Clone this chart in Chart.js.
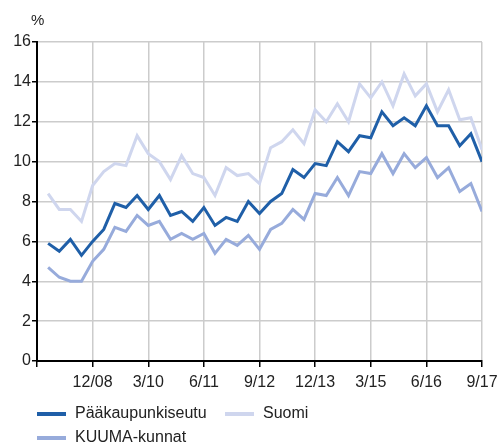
<!DOCTYPE html>
<html>
<head>
<meta charset="utf-8">
<script src="https://cdn.jsdelivr.net/npm/chart.js@4.4.0/dist/chart.umd.min.js"></script>
<style>
  html,body{margin:0;padding:0;background:#fff;}
  #wrap{position:relative;width:498px;height:446px;font-family:"Liberation Sans",Arial,sans-serif;color:#222;}
  canvas{position:absolute;left:0;top:0;}
  .unit{position:absolute;left:31px;top:11px;font-size:15px;}
  .leg{position:absolute;font-size:16px;line-height:20px;white-space:nowrap;}
  .sw{position:absolute;width:29px;height:4px;}
</style>
</head>
<body>
<div id="wrap">
  <canvas id="c" width="498" height="446"></canvas>
  <div class="unit">%</div>
  <div id="legend"></div>
</div>
<script>
// x index 0 = 9/07 (axis start), points from 12/07 (1) to 9/17 (40)
const tickLabels = {0:'', 5:'12/08', 10:'3/10', 15:'6/11', 20:'9/12', 25:'12/13', 30:'3/15', 35:'6/16', 40:'9/17'};
const seriesNames = ['Pääkaupunkiseutu', 'KUUMA-kunnat', 'Suomi'];
const seriesColors = ['#1f5fa8', '#97abdb', '#cfd6ee'];
const paakaupunkiseutu = [5.9,5.5,6.1,5.3,6.0,6.6,7.9,7.7,8.3,7.6,8.3,7.3,7.5,7.0,7.7,6.8,7.2,7.0,8.0,7.4,8.0,8.4,9.6,9.2,9.9,9.8,11.0,10.5,11.3,11.2,12.5,11.8,12.2,11.8,12.8,11.8,11.8,10.8,11.4,10.0];
const kuuma = [4.7,4.2,4.0,4.0,5.0,5.6,6.7,6.5,7.3,6.8,7.0,6.1,6.4,6.1,6.4,5.4,6.1,5.8,6.3,5.6,6.6,6.9,7.6,7.1,8.4,8.3,9.2,8.3,9.5,9.4,10.4,9.4,10.4,9.7,10.2,9.2,9.7,8.5,8.9,7.5];
const suomi = [8.4,7.6,7.6,7.0,8.8,9.5,9.9,9.8,11.3,10.4,10.0,9.1,10.3,9.4,9.2,8.3,9.7,9.3,9.4,8.9,10.7,11.0,11.6,10.9,12.6,12.0,12.9,12.0,13.9,13.2,14.0,12.8,14.4,13.3,13.9,12.5,13.6,12.1,12.2,10.6];

const toPts = arr => arr.map((v,i)=>({x:i+1,y:v}));
const allData = [paakaupunkiseutu, kuuma, suomi];
const orders = [0,1,2];

const datasets = allData.map((d,k)=>({
  label: seriesNames[k],
  data: toPts(d),
  borderColor: seriesColors[k],
  backgroundColor: seriesColors[k],
  borderWidth: 3,
  pointRadius: 0,
  tension: 0,
  order: orders[k]
}));

new Chart(document.getElementById('c'), {
  type: 'line',
  data: {datasets},
  options: {
    responsive: false,
    animation: false,
    layout: {padding: {top: 42, right: 16, left: 0, bottom: 0}},
    plugins: {legend: {display: false}, tooltip: {enabled: false}},
    scales: {
      x: {
        type: 'linear', min: 0, max: 40,
        afterFit: s => { s.height = 85; s.paddingRight = 0; s.paddingLeft = 0; },
        afterBuildTicks: s => { s.ticks = [0,5,10,15,20,25,30,35,40].map(v=>({value:v})); },
        ticks: {
          autoSkip: false, maxRotation: 0, padding: 6,
          font: {family: '"Liberation Sans", Arial, sans-serif', size: 16},
          color: '#222',
          callback: v => tickLabels[v] !== undefined ? tickLabels[v] : ''
        },
        grid: {color: '#cccccc', lineWidth: 1.5, tickColor: '#000', tickLength: 6},
        border: {color: '#000', width: 2}
      },
      y: {
        min: 0, max: 16,
        afterFit: s => { s.width = 37; s.paddingTop = 0; s.paddingBottom = 0; },
        ticks: {
          stepSize: 2, padding: 1,
          font: {family: '"Liberation Sans", Arial, sans-serif', size: 16},
          color: '#222'
        },
        grid: {color: '#cccccc', lineWidth: 1.5, tickColor: '#000', tickLength: 5},
        border: {color: '#000', width: 2}
      }
    }
  }
});

// HTML legend
const legPos = [{x:37,y:414},{x:37,y:438},{x:225,y:414}];
const leg = document.getElementById('legend');
seriesNames.forEach((n,k)=>{
  const sw = document.createElement('div');
  sw.className='sw'; sw.style.left=legPos[k].x+'px'; sw.style.top=(legPos[k].y-2)+'px';
  sw.style.background=seriesColors[k];
  leg.appendChild(sw);
  const t = document.createElement('div');
  t.className='leg'; t.textContent=n;
  t.style.left=(legPos[k].x+38)+'px'; t.style.top=(legPos[k].y-11)+'px';
  leg.appendChild(t);
});
</script>
</body>
</html>
